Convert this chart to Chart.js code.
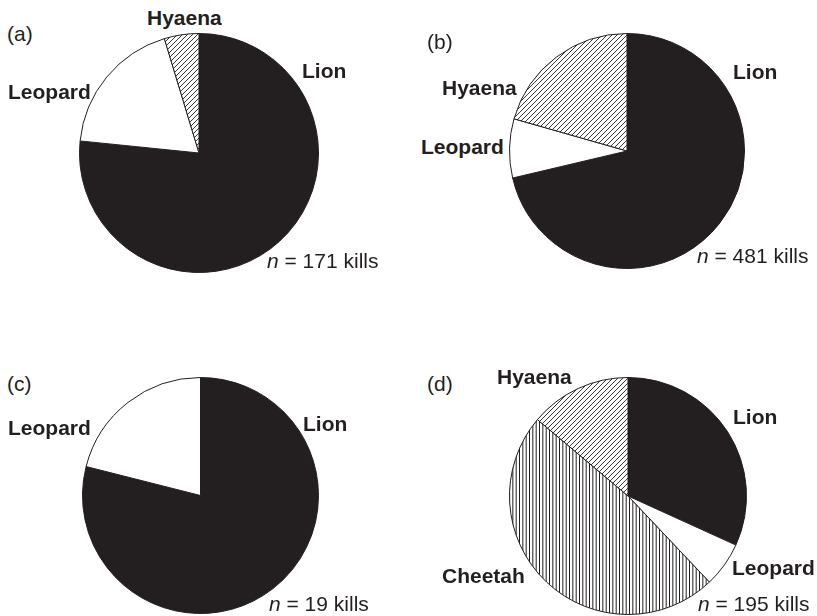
<!DOCTYPE html>
<html>
<head>
<meta charset="utf-8">
<script src="https://cdn.jsdelivr.net/npm/chart.js@4.4.1/dist/chart.umd.min.js"></script>
<style>
  html, body { margin: 0; padding: 0; background: #fff; }
  #page { position: relative; width: 817px; height: 616px; overflow: hidden;
          font-family: "Liberation Sans", Arial, Helvetica, sans-serif; color: #231f20; }
  #page canvas { position: absolute; }
  .txt { position: absolute; font-size: 21px; line-height: 21px; white-space: nowrap; }
  .cat { font-weight: bold; }
</style>
</head>
<body>
<div id="page"></div>
<script>
// Data (kills per predator)
const panelNames = ['(a)', '(b)', '(c)', '(d)'];
const killTotals = [171, 481, 19, 195];

const categoriesA = ['Lion', 'Leopard', 'Hyaena'];
const valuesA = [131, 32, 8];

const categoriesB = ['Lion', 'Leopard', 'Hyaena'];
const valuesB = [343, 39, 99];

const categoriesC = ['Lion', 'Leopard'];
const valuesC = [15, 4];

const categoriesD = ['Lion', 'Leopard', 'Cheetah', 'Hyaena'];
const valuesD = [62, 12, 94, 27];

// Fill patterns
function makePattern(kind) {
    const tile = document.createElement('canvas');
    const c = tile.getContext('2d');
    if (kind === 'diag') {
        tile.width = 5; tile.height = 5;
        c.fillStyle = '#fff'; c.fillRect(0, 0, 5, 5);
        c.strokeStyle = '#231f20'; c.lineWidth = 0.9;
        c.beginPath();
        c.moveTo(-1, 6); c.lineTo(6, -1);
        c.moveTo(-1, 1); c.lineTo(1, -1);
        c.moveTo(4, 6); c.lineTo(6, 4);
        c.stroke();
    } else {
        tile.width = 10; tile.height = 4;
        c.fillStyle = '#fff'; c.fillRect(0, 0, 10, 4);
        c.fillStyle = '#231f20';
        [0, 3.33, 6.67].forEach(x => c.fillRect(x, 0, 1, 4));
    }
    return document.createElement('canvas').getContext('2d').createPattern(tile, 'repeat');
}

const fills = {
    Lion: '#231f20',
    Leopard: '#ffffff',
    Hyaena: makePattern('diag'),
    Cheetah: makePattern('vert')
};

// Layout of each panel: pie centre/radius and label spots
const panels = [
    { cats: categoriesA, vals: valuesA, cx: 199, cy: 152.5, r: 119.5,
      title: [7, 23], n: [267, 250],
      labels: { Lion: [302, 60], Leopard: [8, 81], Hyaena: [147, 7] } },
    { cats: categoriesB, vals: valuesB, cx: 627, cy: 150.5, r: 117.5,
      title: [427, 31], n: [697, 245],
      labels: { Lion: [733, 61], Leopard: [421, 136], Hyaena: [442, 77] } },
    { cats: categoriesC, vals: valuesC, cx: 200, cy: 495, r: 118,
      title: [7, 373], n: [269, 593],
      labels: { Lion: [303, 413], Leopard: [8, 417] } },
    { cats: categoriesD, vals: valuesD, cx: 627.5, cy: 495.5, r: 118.5,
      title: [427, 373], n: [698, 593],
      labels: { Lion: [733, 406], Leopard: [732, 557], Cheetah: [442, 565], Hyaena: [497, 366] } }
];

const page = document.getElementById('page');

function addText(html, pos, cls) {
    const d = document.createElement('div');
    d.className = 'txt ' + (cls || '');
    d.innerHTML = html;
    d.style.left = pos[0] + 'px';
    d.style.top = pos[1] + 'px';
    page.appendChild(d);
}

panels.forEach((p, i) => {
    const size = Math.round(p.r * 2 + 1);
    const canvas = document.createElement('canvas');
    canvas.width = size; canvas.height = size;
    canvas.style.width = size + 'px'; canvas.style.height = size + 'px';
    canvas.style.left = (p.cx - size / 2) + 'px';
    canvas.style.top = (p.cy - size / 2) + 'px';
    page.appendChild(canvas);

    new Chart(canvas.getContext('2d'), {
        type: 'pie',
        data: {
            labels: p.cats,
            datasets: [{
                data: p.vals,
                backgroundColor: p.cats.map(c => fills[c]),
                borderColor: '#231f20',
                borderWidth: 1,
                hoverOffset: 0
            }]
        },
        options: {
            responsive: false,
            animation: false,
            events: [],
            layout: { padding: 0 },
            plugins: {
                legend: { display: false },
                tooltip: { enabled: false }
            }
        }
    });

    addText(panelNames[i], p.title);
    p.cats.forEach(c => addText(c, p.labels[c], 'cat'));
    addText('<i>n</i> = ' + killTotals[i] + ' kills', p.n);
});
</script>
</body>
</html>
